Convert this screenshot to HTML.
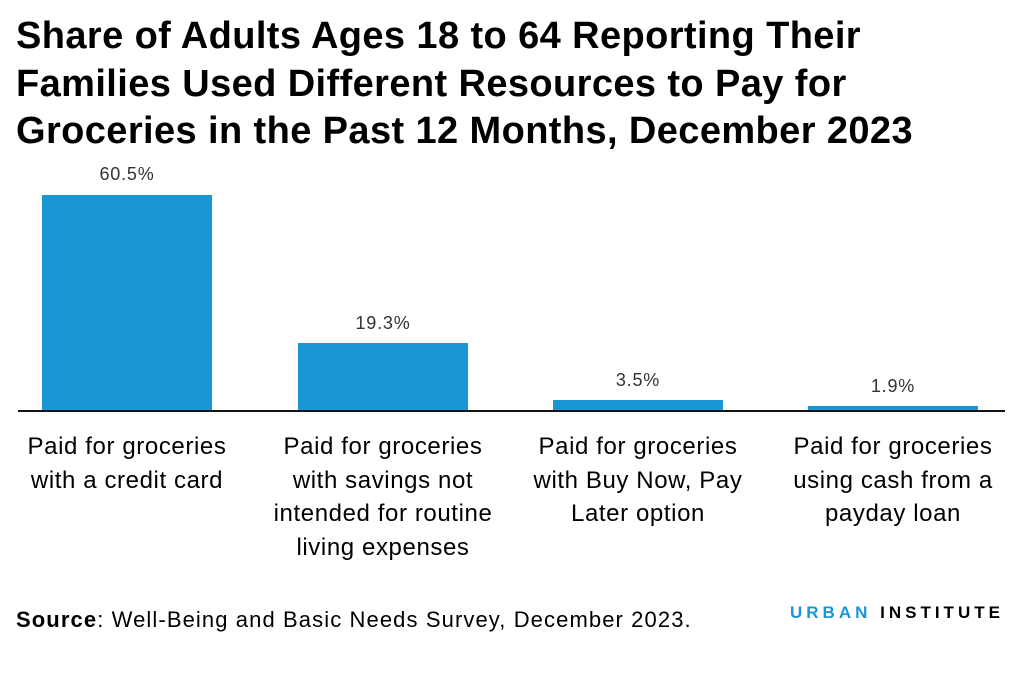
<!DOCTYPE html>
<html><head><meta charset="utf-8"><style>
body{margin:0;width:1024px;height:678px;background:#fff;position:relative;overflow:hidden;font-family:"Liberation Sans",sans-serif;color:#000}
.t{position:absolute;left:16px;top:13px;font-size:38px;font-weight:bold;line-height:47.5px;letter-spacing:0.4px;white-space:nowrap}
.bar{position:absolute;background:#1996d4;width:170px}
.v{position:absolute;width:170px;text-align:center;font-size:18px;letter-spacing:0.8px;color:#333}
.l{position:absolute;width:260px;text-align:center;font-size:24px;letter-spacing:0.6px;line-height:33.5px;top:430px}
.ax{position:absolute;left:18px;width:987px;top:410px;height:2px;background:#111}
.src{position:absolute;left:16px;top:607px;font-size:22px;letter-spacing:1.1px;white-space:nowrap}
.logo{position:absolute;left:790px;top:603px;font-size:17px;font-weight:bold;letter-spacing:4px}
</style></head><body>
<div class="t">Share of Adults Ages 18 to 64 Reporting Their<br>Families Used Different Resources to Pay for<br>Groceries in the Past 12 Months, December 2023</div>
<div class="bar" style="left:42px;top:195px;height:216px"></div>
<div class="bar" style="left:298px;top:343px;height:68px"></div>
<div class="bar" style="left:553px;top:400px;height:11px"></div>
<div class="bar" style="left:808px;top:406px;height:5px"></div>
<div class="v" style="left:42px;top:164px">60.5%</div>
<div class="v" style="left:298px;top:313px">19.3%</div>
<div class="v" style="left:553px;top:370px">3.5%</div>
<div class="v" style="left:808px;top:376px">1.9%</div>
<div class="ax"></div>
<div class="l" style="left:-3px">Paid for groceries<br>with a credit card</div>
<div class="l" style="left:253px">Paid for groceries<br>with savings not<br>intended for routine<br>living expenses</div>
<div class="l" style="left:508px">Paid for groceries<br>with Buy Now, Pay<br>Later option</div>
<div class="l" style="left:763px">Paid for groceries<br>using cash from a<br>payday loan</div>
<div class="src"><b>Source</b>: Well-Being and Basic Needs Survey, December 2023.</div>
<div class="logo"><span style="color:#1996d4">URBAN</span> INSTITUTE</div>
</body></html>
